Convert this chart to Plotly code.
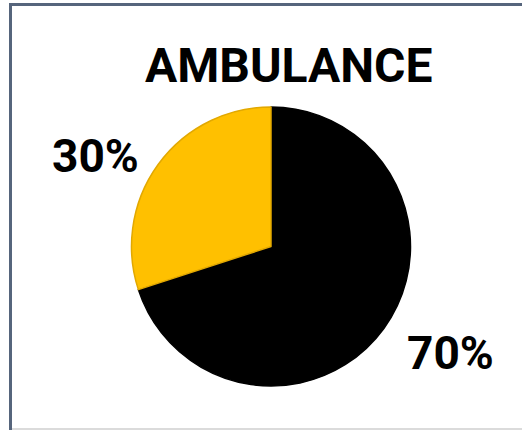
import plotly.graph_objects as go

# Share of ambulance responses
categories = ["Black", "Gold"]
values = [70, 30]
slice_colors = ["#000000", "#FFC000"]
edge_colors = ["#000000", "#E2A800"]
title_text = "AMBULANCE"

W, H = 522, 430

def px(x):
    return x / W

def py(y):
    return 1 - y / H

cx, cy, r = 271, 246.5, 139.5

fig = go.Figure(
    go.Pie(
        labels=categories,
        values=values,
        sort=False,
        direction="clockwise",
        rotation=0,
        marker=dict(colors=slice_colors, line=dict(color=edge_colors, width=1.5)),
        textinfo="none",
        hoverinfo="label+percent",
        showlegend=False,
        domain=dict(x=[px(cx - r), px(cx + r)], y=[py(cy + r), py(cy - r)]),
    )
)

total = sum(values)
label_pos = [(450, 353), (95, 156)]
annotations = [
    dict(
        text=f"<b>{round(v / total * 100)}%</b>",
        x=px(x), y=py(y), xref="paper", yref="paper",
        showarrow=False, xanchor="center", yanchor="middle",
        font=dict(family="Roboto", size=46, color="#000000"),
    )
    for v, (x, y) in zip(values, label_pos)
]
annotations.append(
    dict(
        text=f"<b>{title_text}</b>",
        x=px(288), y=py(65), xref="paper", yref="paper",
        showarrow=False, xanchor="center", yanchor="middle",
        font=dict(family="Roboto", size=48, color="#000000"),
    )
)

shapes = [
    # frame: top and left edges
    dict(type="line", xref="paper", yref="paper", x0=px(9), x1=px(522), y0=py(4.5), y1=py(4.5),
         line=dict(color="#56657C", width=3)),
    dict(type="line", xref="paper", yref="paper", x0=px(10.5), x1=px(10.5), y0=py(3), y1=py(430),
         line=dict(color="#56657C", width=3)),
    # bottom edge
    dict(type="line", xref="paper", yref="paper", x0=px(12), x1=px(522), y0=py(429), y1=py(429),
         line=dict(color="#CFCFCF", width=1.5)),
]

fig.update_layout(
    width=W, height=H,
    margin=dict(l=0, r=0, t=0, b=0),
    paper_bgcolor="#FFFFFF",
    plot_bgcolor="#FFFFFF",
    annotations=annotations,
    shapes=shapes,
)

fig.write_html("out.html")
